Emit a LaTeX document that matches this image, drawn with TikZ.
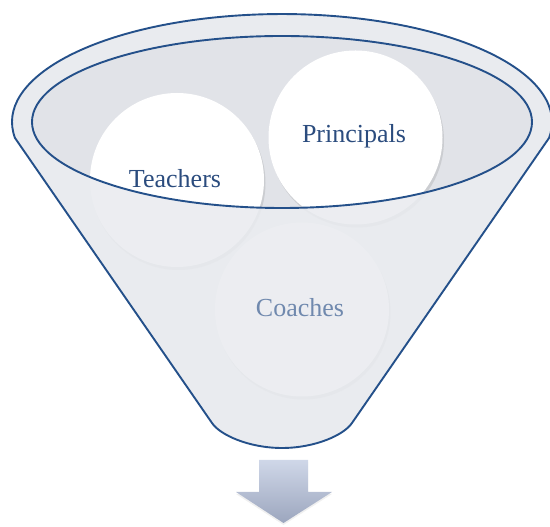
\documentclass[tikz,border=0pt]{standalone}
\usepackage{fontspec}
\setmainfont{Liberation Serif}
\usetikzlibrary{positioning, shadows}
\definecolor{funnelline}{HTML}{24508A}
\definecolor{funnelfill}{HTML}{E9EBEF}
\definecolor{rimfill}{HTML}{E1E3E8}
\definecolor{labeltext}{HTML}{2B4C7E}
\definecolor{fadedtext}{HTML}{7089AE}
\definecolor{arrowtop}{HTML}{CFD7E8}
\definecolor{arrowbottom}{HTML}{9CA6BE}

\newcommand\funnelpath{(15,389) arc[start angle=188.5, end angle=-8.5, x radius=270pt, y radius=108pt]
    -- (352,104) .. controls (344,92) and (315,79) .. (282,79)
    .. controls (249,79) and (220,92) .. (212,104) -- cycle}

\begin{document}
\begin{tikzpicture}[x=1pt, y=1pt,
        % Estilo de los circulos
        bubble/.style={
            circle,
            fill=white,
            minimum size=174pt,
            inner sep=0pt,
            drop shadow={opacity=0.22, shadow xshift=1.5pt, shadow yshift=-3pt}
        },
        bubbletext/.style={
            font=\fontsize{26}{30}\selectfont,
            text=labeltext
        }
    ]
        \useasboundingbox (0,0) rectangle (550,527);

        % Funnel (back)
        \path[fill=funnelfill] \funnelpath;
        \path[fill=rimfill] (282,405) ellipse [x radius=250pt, y radius=86pt];

        % Nodes
        \node[bubble] (teachers) at (177,347) {};
        \node[bubble] (principals) at (355.5,389.5) {};
        \node[bubble] (coaches) at (302,217.5) {};

        % Funnel (front)
        \path[fill=funnelfill, fill opacity=0.85, even odd rule] \funnelpath
            (282,405) ellipse [x radius=250pt, y radius=86pt];
        \draw[funnelline, line width=1.9pt] \funnelpath;
        \draw[funnelline, line width=1.9pt] (282,405) ellipse [x radius=250pt, y radius=86pt];

        % Labels
        \node[bubbletext] (teacherslabel) at ([xshift=-2pt, yshift=1pt]teachers.center) {Teachers};
        \node[bubbletext] (principalslabel) at ([xshift=-1.5pt, yshift=1.5pt]principals.center) {Principals};
        \node[bubbletext, text=fadedtext] (coacheslabel) at ([xshift=-2pt, yshift=1.5pt]coaches.center) {Coaches};

        % Arrow
        \shade[top color=arrowtop, bottom color=arrowbottom, drop shadow={opacity=0.12, shadow xshift=0pt, shadow yshift=-2pt}]
            (259,67) -- (308,67) -- (308,35) -- (332,35) -- (283.5,4) -- (236,35) -- (259,35) -- cycle;

    \end{tikzpicture}
\end{document}
